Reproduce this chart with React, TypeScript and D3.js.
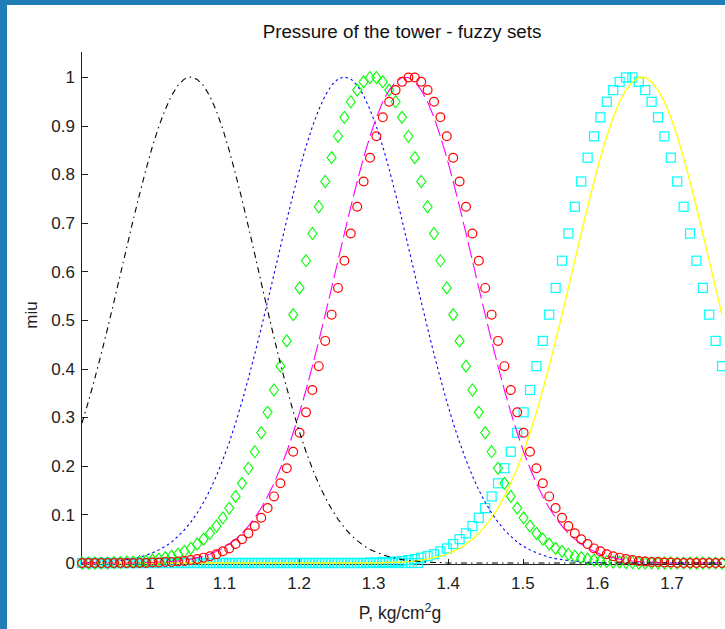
import React from "react";
import * as d3 from "d3";

// Sampling grid of the membership functions (P, kg/cm2g)
const xStart = 0.909;
const xStep = 0.00858;
const nPoints = 101;

// Membership values (miu), one value per grid point
const blackMu = [
  0.288, 0.332, 0.38, 0.43, 0.483, 0.538, 0.594, 0.65, 0.706, 0.759,
  0.81, 0.857, 0.898, 0.933, 0.962, 0.983, 0.996, 1.0, 0.995, 0.982,
  0.96, 0.93, 0.893, 0.849, 0.8, 0.748, 0.692, 0.635, 0.577, 0.52,
  0.464, 0.41, 0.36, 0.312, 0.269, 0.229, 0.194, 0.162, 0.135, 0.111,
  0.09, 0.073, 0.058, 0.046, 0.036, 0.028, 0.022, 0.017, 0.013, 0.01,
  0.007, 0.005, 0.004, 0.003, 0.002, 0.001, 0.001, 0, 0, 0,
  0, 0, 0, 0, 0, 0, 0, 0, 0, 0,
  0, 0, 0, 0, 0, 0, 0, 0, 0, 0,
  0, 0, 0, 0, 0, 0, 0, 0, 0, 0,
  0, 0, 0, 0, 0, 0, 0, 0, 0, 0,
  0,
];
const blueMu = [
  0, 0.001, 0.001, 0.002, 0.003, 0.004, 0.005, 0.007, 0.009, 0.012,
  0.016, 0.021, 0.027, 0.034, 0.043, 0.055, 0.068, 0.084, 0.103, 0.125,
  0.15, 0.179, 0.212, 0.248, 0.288, 0.332, 0.38, 0.43, 0.483, 0.538,
  0.594, 0.65, 0.706, 0.759, 0.81, 0.857, 0.898, 0.933, 0.962, 0.983,
  0.996, 1.0, 0.996, 0.983, 0.962, 0.933, 0.898, 0.857, 0.81, 0.759,
  0.706, 0.65, 0.594, 0.538, 0.483, 0.43, 0.38, 0.332, 0.288, 0.248,
  0.212, 0.179, 0.15, 0.125, 0.103, 0.084, 0.068, 0.055, 0.043, 0.034,
  0.027, 0.021, 0.016, 0.012, 0.009, 0.007, 0.005, 0.004, 0.003, 0.002,
  0.001, 0.001, 0, 0, 0, 0, 0, 0, 0, 0,
  0, 0, 0, 0, 0, 0, 0, 0, 0, 0,
  0,
];
const greenMu = [
  0, 0, 0, 0, 0, 0.001, 0.001, 0.002, 0.002, 0.003,
  0.004, 0.006, 0.008, 0.011, 0.014, 0.018, 0.024, 0.03, 0.039, 0.049,
  0.061, 0.076, 0.093, 0.113, 0.137, 0.164, 0.195, 0.229, 0.268, 0.31,
  0.356, 0.405, 0.457, 0.511, 0.566, 0.622, 0.678, 0.733, 0.785, 0.834,
  0.878, 0.917, 0.949, 0.973, 0.99, 0.999, 0.999, 0.99, 0.973, 0.949,
  0.917, 0.878, 0.834, 0.785, 0.733, 0.678, 0.622, 0.566, 0.511, 0.457,
  0.405, 0.356, 0.31, 0.268, 0.229, 0.195, 0.164, 0.137, 0.113, 0.093,
  0.076, 0.061, 0.049, 0.039, 0.03, 0.024, 0.018, 0.014, 0.011, 0.008,
  0.006, 0.004, 0.003, 0.002, 0.002, 0.001, 0.001, 0, 0, 0,
  0, 0, 0, 0, 0, 0, 0, 0, 0, 0,
  0,
];
const redMu = [
  0, 0, 0, 0, 0, 0, 0, 0, 0, 0,
  0, 0.001, 0.001, 0.002, 0.002, 0.003, 0.004, 0.006, 0.008, 0.011,
  0.014, 0.018, 0.024, 0.03, 0.039, 0.049, 0.061, 0.076, 0.093, 0.113,
  0.137, 0.164, 0.195, 0.229, 0.268, 0.31, 0.356, 0.405, 0.457, 0.511,
  0.566, 0.622, 0.678, 0.733, 0.785, 0.834, 0.878, 0.917, 0.949, 0.973,
  0.99, 0.999, 0.999, 0.99, 0.973, 0.949, 0.917, 0.878, 0.834, 0.785,
  0.733, 0.678, 0.622, 0.566, 0.511, 0.457, 0.405, 0.356, 0.31, 0.268,
  0.229, 0.195, 0.164, 0.137, 0.113, 0.093, 0.076, 0.061, 0.049, 0.039,
  0.03, 0.024, 0.018, 0.014, 0.011, 0.008, 0.006, 0.004, 0.003, 0.002,
  0.002, 0.001, 0.001, 0, 0, 0, 0, 0, 0, 0,
  0,
];
const magentaMu = [
  0, 0, 0, 0, 0, 0, 0, 0, 0, 0,
  0.001, 0.001, 0.002, 0.002, 0.003, 0.004, 0.006, 0.008, 0.011, 0.014,
  0.018, 0.024, 0.03, 0.039, 0.049, 0.061, 0.076, 0.093, 0.113, 0.137,
  0.164, 0.195, 0.229, 0.268, 0.31, 0.356, 0.405, 0.457, 0.511, 0.566,
  0.622, 0.678, 0.733, 0.785, 0.834, 0.878, 0.917, 0.949, 0.973, 0.99,
  0.999, 0.999, 0.99, 0.973, 0.949, 0.917, 0.878, 0.834, 0.785, 0.733,
  0.678, 0.622, 0.566, 0.511, 0.457, 0.405, 0.356, 0.31, 0.268, 0.229,
  0.195, 0.164, 0.137, 0.113, 0.093, 0.076, 0.061, 0.049, 0.039, 0.03,
  0.024, 0.018, 0.014, 0.011, 0.008, 0.006, 0.004, 0.003, 0.002, 0.002,
  0.001, 0.001, 0, 0, 0, 0, 0, 0, 0, 0,
  0,
];
const cyanMu = [
  0, 0, 0, 0, 0, 0, 0, 0, 0, 0,
  0, 0, 0, 0, 0, 0, 0, 0, 0, 0,
  0, 0, 0, 0, 0, 0, 0, 0, 0, 0,
  0, 0, 0, 0, 0, 0, 0, 0, 0, 0,
  0, 0, 0, 0, 0, 0.001, 0.001, 0.002, 0.002, 0.003,
  0.004, 0.006, 0.008, 0.011, 0.014, 0.018, 0.024, 0.03, 0.039, 0.049,
  0.061, 0.076, 0.093, 0.113, 0.137, 0.164, 0.195, 0.229, 0.268, 0.31,
  0.356, 0.405, 0.457, 0.511, 0.566, 0.622, 0.678, 0.733, 0.785, 0.834,
  0.878, 0.917, 0.949, 0.973, 0.99, 0.999, 0.999, 0.99, 0.973, 0.949,
  0.917, 0.878, 0.834, 0.785, 0.733, 0.678, 0.622, 0.566, 0.511, 0.457,
  0.405,
];
const yellowMu = [
  0, 0, 0, 0, 0, 0, 0, 0, 0, 0,
  0, 0, 0, 0, 0, 0, 0, 0, 0, 0,
  0, 0, 0, 0, 0, 0, 0, 0, 0, 0,
  0, 0, 0, 0, 0, 0, 0, 0, 0, 0,
  0, 0, 0, 0, 0, 0, 0, 0.001, 0.001, 0.002,
  0.002, 0.003, 0.004, 0.006, 0.008, 0.011, 0.014, 0.018, 0.024, 0.03,
  0.039, 0.049, 0.061, 0.076, 0.093, 0.113, 0.137, 0.164, 0.195, 0.229,
  0.268, 0.31, 0.356, 0.405, 0.457, 0.511, 0.566, 0.622, 0.678, 0.733,
  0.785, 0.834, 0.878, 0.917, 0.949, 0.973, 0.99, 0.999, 0.999, 0.99,
  0.973, 0.949, 0.917, 0.878, 0.834, 0.785, 0.733, 0.678, 0.622, 0.566,
  0.511,
];
// dense row of cyan squares lying on miu = 0 at the low-pressure end
const cyanBaseCount = 53;

const xTicks = [1.0, 1.1, 1.2, 1.3, 1.4, 1.5, 1.6, 1.7];
const xTickLabels = ["1", "1.1", "1.2", "1.3", "1.4", "1.5", "1.6", "1.7"];
const yTicks = [0, 0.1, 0.2, 0.3, 0.4, 0.5, 0.6, 0.7, 0.8, 0.9, 1];
const yTickLabels = ["0", "0.1", "0.2", "0.3", "0.4", "0.5", "0.6", "0.7", "0.8", "0.9", "1"];

const titleText = "Pressure of the tower - fuzzy sets";
const yLabelText = "miu";

const W = 725;
const H = 629;
const FONT = "'Liberation Sans', Arial, Helvetica, sans-serif";

export default function App() {
  const xGrid = d3.range(nPoints).map((k) => xStart + k * xStep);
  const xBase = d3.range(cyanBaseCount).map((k) => xStart + (k + 0.5) * xStep);

  const x = d3.scaleLinear().domain([xStart, xStart + (nPoints - 1) * xStep]).range([82, 722]);
  const y = d3.scaleLinear().domain([0, 1.05]).range([563, 52.7]);

  const pts = (mu: number[]) => mu.map((v, i) => [xGrid[i], v] as [number, number]);
  const line = d3
    .line<[number, number]>()
    .x((d) => x(d[0]))
    .y((d) => y(d[1]));

  const axisY = 564.5;
  const axisX = 81.5;
  const sq = 9;

  return (
    <svg
      width={W}
      height={H}
      style={{ position: "absolute", left: 0, top: 0, background: "#fff" }}
      fontFamily={FONT}
    >
      <rect x={0} y={0} width={W} height={H} fill="#ffffff" />
      {/* frame */}
      <rect x={0} y={0} width={W} height={5} fill="#1f7db8" />
      <rect x={0} y={0} width={7} height={H} fill="#1f7db8" />

      {/* title */}
      <text x={402} y={38} textAnchor="middle" fontSize={18.8} fill="#111">
        {titleText}
      </text>

      {/* axes */}
      <line x1={axisX} x2={axisX} y1={52} y2={565} stroke="#222" strokeWidth={1} />
      <line x1={82} x2={722} y1={axisY} y2={axisY} stroke="#222" strokeWidth={1} />
      {yTicks.map((t, i) => (
        <g key={"yt" + i}>
          <line x1={82} x2={88} y1={Math.round(y(t)) + 0.5} y2={Math.round(y(t)) + 0.5} stroke="#222" />
          <text x={75} y={y(t)} dy="0.36em" textAnchor="end" fontSize={17} fill="#222">
            {yTickLabels[i]}
          </text>
        </g>
      ))}
      {xTicks.map((t, i) => (
        <g key={"xt" + i}>
          <line x1={Math.round(x(t)) + 0.5} x2={Math.round(x(t)) + 0.5} y1={565} y2={559} stroke="#222" />
          <text x={x(t)} y={589} textAnchor="middle" fontSize={17} fill="#222">
            {xTickLabels[i]}
          </text>
        </g>
      ))}
      <text x={400} y={619} textAnchor="middle" fontSize={17.5} fill="#222">
        P, kg/cm<tspan dy={-7} fontSize={12.5}>2</tspan>
        <tspan dy={7}>g</tspan>
      </text>
      <text transform="translate(37,315) rotate(-90)" textAnchor="middle" fontSize={17} fill="#222">
        {yLabelText}
      </text>

      {/* cyan squares */}
      {xBase.map((xv, i) => (
        <rect key={"cb" + i} x={x(xv) - sq / 2} y={y(0) - sq / 2} width={sq} height={sq} fill="none" stroke="#00ffff" strokeWidth={1.2} />
      ))}
      {pts(cyanMu).map((d, i) => (
        <rect key={"c" + i} x={x(d[0]) - sq / 2} y={y(d[1]) - sq / 2} width={sq} height={sq} fill="none" stroke="#00ffff" strokeWidth={1.2} />
      ))}
      {/* yellow solid */}
      <path d={line(pts(yellowMu)) || ""} fill="none" stroke="#ffff00" strokeWidth={1.3} />
      {/* blue dotted */}
      <path d={line(pts(blueMu)) || ""} fill="none" stroke="#0000ff" strokeWidth={1.1} strokeDasharray="2.5,3" />
      {/* green diamonds */}
      {pts(greenMu).map((d, i) => (
        <path
          key={"g" + i}
          transform={`translate(${x(d[0])},${y(d[1])})`}
          d="M0,-6L4.5,0L0,6L-4.5,0Z"
          fill="none"
          stroke="#00ff00"
          strokeWidth={1.1}
        />
      ))}
      {/* magenta line */}
      <path d={line(pts(magentaMu)) || ""} fill="none" stroke="#ff00ff" strokeWidth={1.1} strokeDasharray="16,5" />
      {/* red circles */}
      {pts(redMu).map((d, i) => (
        <circle key={"r" + i} cx={x(d[0])} cy={y(d[1])} r={4.4} fill="none" stroke="#ff0000" strokeWidth={1.2} />
      ))}
      {/* black dash-dot */}
      <path d={line(pts(blackMu)) || ""} fill="none" stroke="#000" strokeWidth={1.1} strokeDasharray="6,4,1.5,4" />
    </svg>
  );
}
